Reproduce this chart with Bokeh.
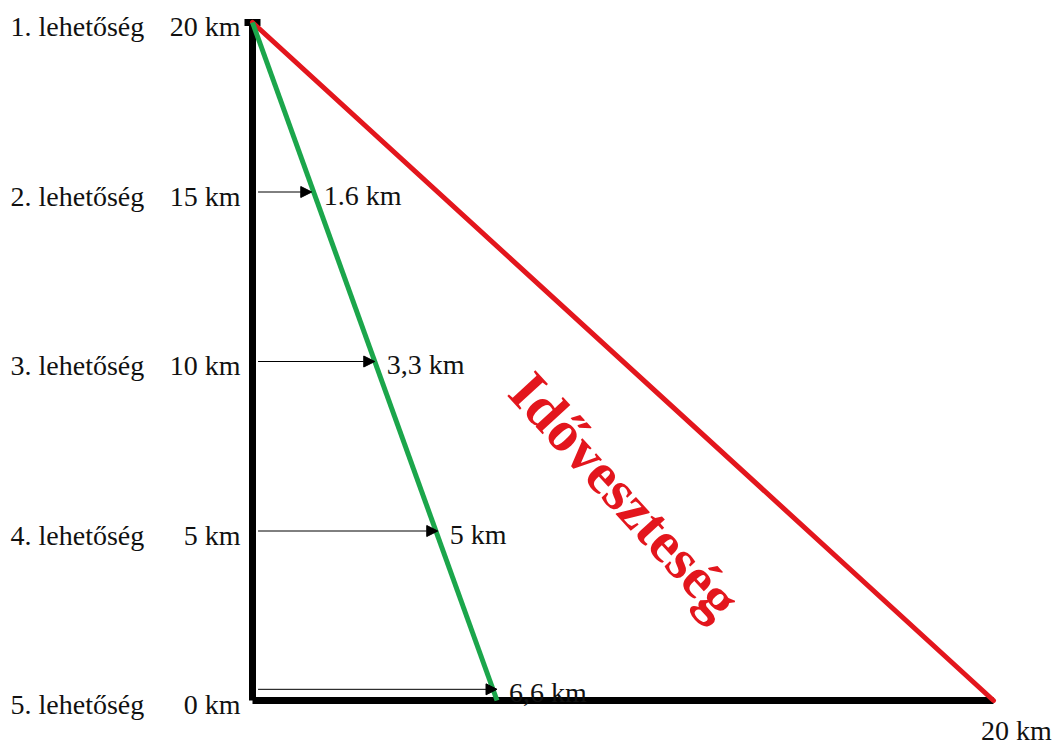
from bokeh.plotting import figure
from bokeh.models import Arrow, NormalHead, ColumnDataSource
from bokeh.core.properties import value
from bokeh.embed import file_html
from bokeh.resources import INLINE

# ---- data ----
options = ["1. lehetőség", "2. lehetőség", "3. lehetőség", "4. lehetőség", "5. lehetőség"]
start_km = [20, 15, 10, 5, 0]
start_labels = ["20 km", "15 km", "10 km", "5 km", "0 km"]
offset_km = [1.6, 3.3, 5, 6.6]
offset_labels = ["1.6 km", "3,3 km", "5 km", "6,6 km"]
total_km = 20
total_label = "20 km"
loss_label = "Időveszteség"

FAMILY = "Liberation Serif"
W, H = 1064, 745
x0_px, xpk = 252.0, 37.05
y0_px, ypk = 700.0, 33.9

p = figure(width=W, height=H, output_backend="svg", toolbar_location=None,
           x_range=(-x0_px / xpk, (W - x0_px) / xpk),
           y_range=(-(H - y0_px) / ypk, total_km + (y0_px - total_km * ypk) / ypk),
           x_axis_location=None, y_axis_location=None, min_border=0)
p.grid.visible = False
p.outline_line_color = None
p.background_fill_color = "white"
p.border_fill_color = "white"

# black axes
p.line([0, 0], [0, total_km], line_color="black", line_width=7)
p.line([0, total_km], [0, 0], line_color="black", line_width=7)
p.rect(x=[0], y=[total_km], width=16, height=7, width_units="screen",
       height_units="screen", fill_color="black", line_color=None)

# red and green lines
p.line([0, total_km], [total_km, 0], line_color="#e3161d", line_width=5, line_cap="round")
p.line([0, offset_km[-1]], [total_km, 0], line_color="#1ba64b", line_width=5)

# arrows
for km, off in zip(start_km[1:], offset_km):
    ya = km if km > 0 else 0.33
    p.add_layout(Arrow(x_start=0.15, y_start=ya, x_end=off, y_end=ya,
                       line_color="black", line_width=1,
                       end=NormalHead(size=11, fill_color="black", line_color="black")))

# left labels
src_left = ColumnDataSource(dict(x=[0] * len(options), y=start_km, t=options, k=start_labels))
p.text(x=-6.53, y="y", text="t", source=src_left, text_font=value(FAMILY), text_font_size="28px",
       text_align="left", text_baseline="middle", text_color="#111111", y_offset=4)
p.text(x="x", y="y", text="k", source=src_left, text_font=value(FAMILY), text_font_size="28px",
       text_align="right", text_baseline="middle", text_color="#111111", x_offset=-12, y_offset=4)

# offset labels
src_off = ColumnDataSource(dict(x=offset_km, y=[k if k > 0 else 0.33 for k in start_km[1:]],
                                t=offset_labels))
p.text(x="x", y="y", text="t", source=src_off, text_font=value(FAMILY), text_font_size="28px",
       text_align="left", text_baseline="middle", text_color="#111111", x_offset=12, y_offset=3)

# bottom right label
p.text(x=[total_km], y=[0], text=[total_label], text_font=value(FAMILY), text_font_size="28px",
       text_align="center", text_baseline="middle", text_color="#111111",
       x_offset=23, y_offset=30)

# rotated label
p.text(x=[10.05], y=[6.05], text=[loss_label], text_font=value(FAMILY), text_font_size="58px",
       text_font_style="bold", text_align="center", text_baseline="middle",
       text_color="#e3161d", angle=-0.83)

open("out.html", "w").write(file_html(p, INLINE))
